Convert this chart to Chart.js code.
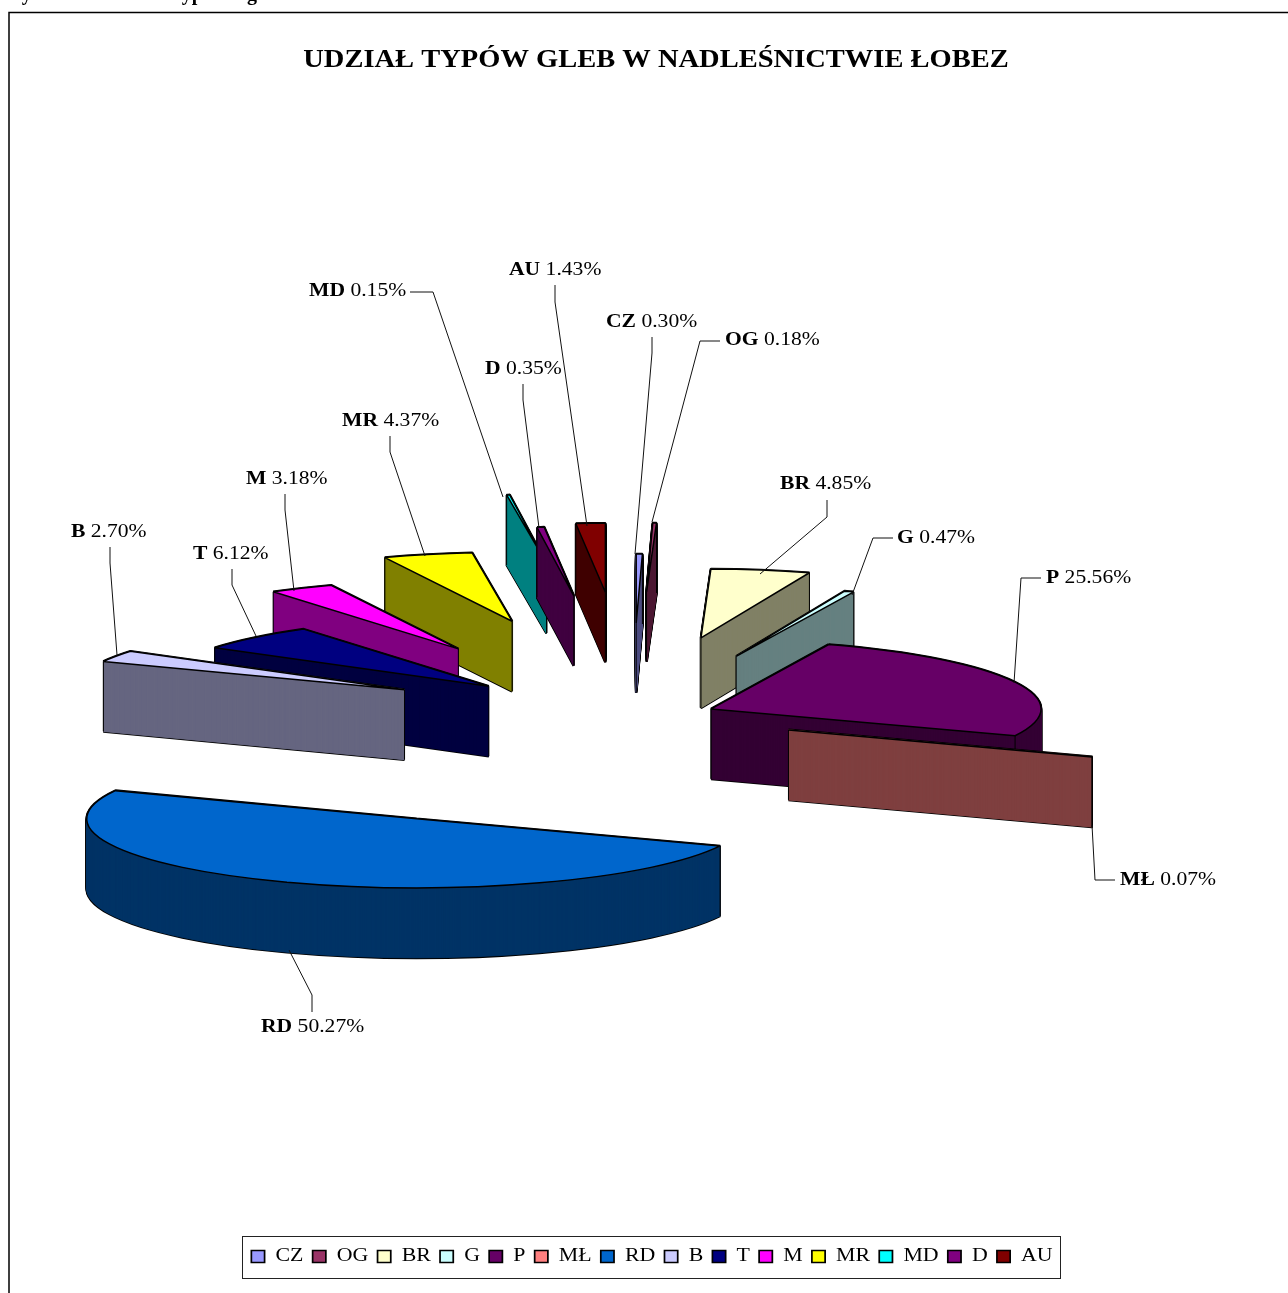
<!DOCTYPE html>
<html><head><meta charset="utf-8">
<style>html,body{margin:0;padding:0;background:#fff;overflow:hidden}canvas{position:absolute;left:0;top:0}</style>
<script src="https://cdn.jsdelivr.net/npm/chart.js@4"></script>
</head><body><canvas id="c" width="1288" height="1293"></canvas>
<script>
const categories = ['CZ','OG','BR','G','P','MŁ','RD','B','T','M','MR','MD','D','AU'];
const shares = [0.30,0.18,4.85,0.47,25.56,0.07,50.27,2.70,6.12,3.18,4.37,0.15,0.35,1.43];
const topColors = ['#9999FF','#993366','#FFFFCC','#CCFFFF','#660066','#FF8080','#0066CC','#CCCCFF','#000080','#FF00FF','#FFFF00','#00FFFF','#800080','#800000'];
const sideColors = ['#4C4C80','#4C1933','#808066','#668080','#330033','#804040','#003366','#666680','#000040','#800080','#808000','#008080','#400040','#400000'];
const explosion = [445,594,380,304,86,170,537,260,202,365,469,735,578,593];
const titleText = 'UDZIAŁ TYPÓW GLEB W NADLEŚNICTWIE ŁOBEZ';

// layout of the projected pie
const ORIGIN = {x:632, y:716}, TILT = 0.209, DEPTH = 70, RADIUS = 330;
const TITLE_STRETCH = 1.14, LEGEND_STRETCH = 1.15, LABEL_STRETCH = 1.2;
// label anchors (left x, baseline y) and leader polylines, per category
const labelAt = [[606,327],[725,345],[780,489],[897,543],[1046,583],[1120,885],[261,1032],[71,537],[193,559],[246,484],[342,426],[309,296],[485,374],[509,275]];
const leaders = [
 [[652,337],[652,353],[635,554]],
 [[720,341],[700,341],[652,522]],
 [[827,500],[827,517],[760,574]],
 [[893,538],[873,538],[852,595]],
 [[1041,578],[1021,578],[1014,683]],
 [[1115,880],[1095,880],[1092,825]],
 [[312,1012],[312,995],[289,950]],
 [[110,547],[110,563],[117,655]],
 [[232,569],[232,585],[256,636]],
 [[285,494],[285,510],[294,591]],
 [[390,436],[390,452],[425,556]],
 [[410,292],[433,292],[503,497]],
 [[523,384],[523,400],[539,528]],
 [[555,285],[555,302],[587,526]]
];
const headingPieces = [['Rysunek',8],['typ',175],['gleb',247]];

function stretchDraw(box, fromX, toX, sx){
  if(box.__wrapped) return; box.__wrapped = true;
  const orig = box.draw.bind(box);
  box.draw = function(a){
    const ctx = box.ctx; ctx.save();
    ctx.translate(toX,0); ctx.scale(sx,1); ctx.translate(-fromX,0);
    orig(a); ctx.restore();
  };
}

function placed(ctx, el, i, dz, fn){
  const mid = (el.startAngle+el.endAngle)/2;
  ctx.save();
  ctx.translate(ORIGIN.x+Math.cos(mid)*explosion[i], ORIGIN.y+dz+Math.sin(mid)*explosion[i]*TILT);
  ctx.scale(1,TILT);
  ctx.translate(-el.x,-el.y);
  fn();
  ctx.restore();
}
function drawStyled(ctx, el, i, dz, style){
  const keep = el.options;
  el.options = Object.assign({}, keep, style);
  placed(ctx, el, i, dz, ()=>el.draw(ctx));
  el.options = keep;
}
function inSector(el, x, y){
  const r = Math.hypot(x,y);
  if(r >= el.outerRadius) return false;
  const tau = Math.PI*2;
  let a = Math.atan2(y,x);
  while(a < el.startAngle) a += tau;
  while(a > el.startAngle+tau) a -= tau;
  return a <= el.endAngle;
}

const pie3d = {
  id:'pie3d',
  beforeDraw(chart){
    stretchDraw(chart.titleBlock, chart.width/2, 656, TITLE_STRETCH);
    stretchDraw(chart.legend, chart.width/2, 652, LEGEND_STRETCH);
  },
  beforeDatasetsDraw(chart){
    const ctx = chart.ctx, arcs = chart.getDatasetMeta(0).data;
    // keep line width even under the flattening transform
    const protoStroke = CanvasRenderingContext2D.prototype.stroke;
    ctx.stroke = function(){ this.save(); this.setTransform(1,0,0,1,0,0); protoStroke.call(this); this.restore(); };
    const order = arcs.map((el,i)=>{
      const mid=(el.startAngle+el.endAngle)/2;
      return {el,i,key:Math.sin(mid)*explosion[i]};
    }).sort((a,b)=>a.key-b.key);
    for(const {el,i} of order){
      for(let dz=DEPTH;dz>=0;dz-=1) drawStyled(ctx,el,i,dz,{backgroundColor:'#000',borderColor:'#000',borderWidth:2.6});
      for(let dz=DEPTH;dz>=0;dz-=0.5) drawStyled(ctx,el,i,dz,{backgroundColor:sideColors[i],borderColor:sideColors[i],borderWidth:0.8});
      // vertical edges of the corners that face the viewer
      const mid=(el.startAngle+el.endAngle)/2;
      const ox=ORIGIN.x+Math.cos(mid)*explosion[i], oy=ORIGIN.y+Math.sin(mid)*explosion[i]*TILT;
      const corners=[[0,0]];
      for(const a of [el.startAngle,el.endAngle]) corners.push([Math.cos(a)*el.outerRadius*0.9999,Math.sin(a)*el.outerRadius*0.9999]);
      ctx.save(); ctx.strokeStyle='#000'; ctx.lineWidth=1;
      for(const [cx,cy] of corners){
        if(inSector(el,cx+Math.cos(mid)*0.01,cy+1.5+Math.sin(mid)*0.01)) continue;
        ctx.beginPath(); ctx.moveTo(ox+cx,oy+cy*TILT); ctx.lineTo(ox+cx,oy+cy*TILT+DEPTH); protoStroke.call(ctx);
      }
      ctx.restore();
      drawStyled(ctx,el,i,0,{backgroundColor:topColors[i],borderColor:'#000',borderWidth:1.5});
    }
    delete ctx.stroke;
    return false;
  },
  afterDraw(chart){
    const ctx = chart.ctx;
    ctx.save();
    // chart frame
    ctx.strokeStyle='#000'; ctx.lineWidth=1.5;
    ctx.beginPath(); ctx.moveTo(9,1293); ctx.lineTo(9,12.5); ctx.lineTo(1288,12.5); ctx.stroke();
    // legend frame
    ctx.lineWidth=1; ctx.strokeStyle='#222';
    ctx.strokeRect(242.5,1236.5,818,42);
    // cut-off document heading above the frame
    ctx.fillStyle='#000'; ctx.font='bold 20px "Liberation Serif"'; ctx.textBaseline='alphabetic';
    for(const [t,x] of headingPieces) ctx.fillText(t,x,0);
    // leader lines
    ctx.strokeStyle='#111'; ctx.lineWidth=1;
    for(const line of leaders){
      ctx.beginPath(); line.forEach(([x,y],j)=> j?ctx.lineTo(x,y):ctx.moveTo(x,y)); ctx.stroke();
    }
    // data labels
    ctx.fillStyle='#000';
    categories.forEach((name,i)=>{
      const [x,y]=labelAt[i];
      ctx.save(); ctx.translate(x,y); ctx.scale(LABEL_STRETCH,1);
      ctx.font='bold 18px "Liberation Serif"'; ctx.fillText(name,0,0);
      const w=ctx.measureText(name+' ').width;
      ctx.font='18px "Liberation Serif"'; ctx.fillText(shares[i].toFixed(2)+'%',w,0);
      ctx.restore();
    });
    ctx.restore();
  }
};

new Chart(document.getElementById('c'),{
  type:'pie',
  plugins:[pie3d],
  data:{labels:categories,datasets:[{data:shares,backgroundColor:topColors,borderColor:'#000',borderWidth:1.5}]},
  options:{
    responsive:false,animation:false,events:[],
    radius:RADIUS,rotation:0,
    layout:{padding:{top:0,left:0,right:0,bottom:17}},
    plugins:{
      tooltip:{enabled:false},
      title:{display:true,text:titleText,color:'#000',font:{family:'"Liberation Serif"',size:25,weight:'bold',lineHeight:1.2},padding:{top:46,bottom:10}},
      legend:{display:true,position:'bottom',labels:{color:'#000',boxWidth:11.5,boxHeight:12,padding:8,font:{family:'"Liberation Serif"',size:19}}}
    }
  }
});
</script></body></html>
